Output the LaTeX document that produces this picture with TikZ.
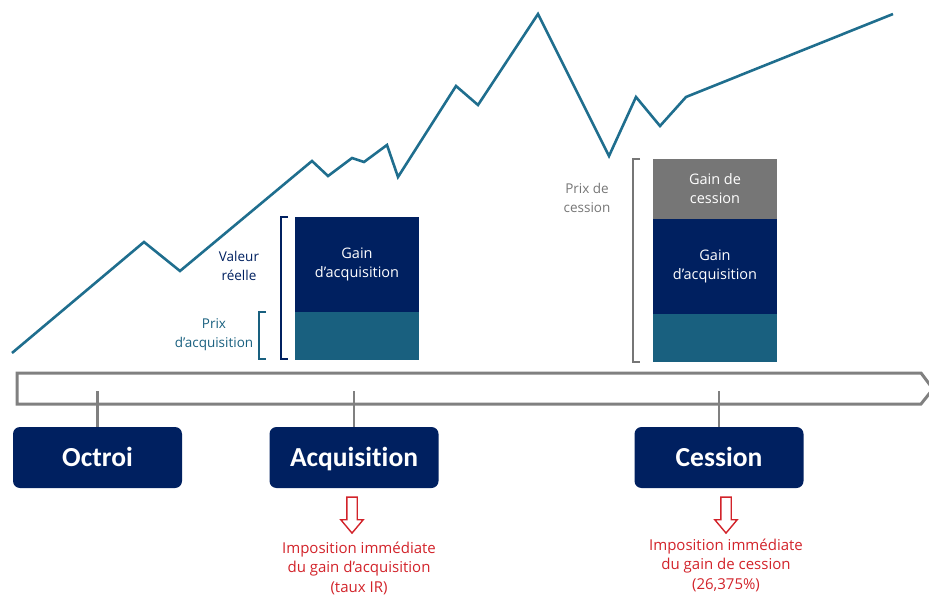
\documentclass[tikz,border=0pt]{standalone}
\usepackage{fontspec}
\setmainfont{Open Sans}
\newfontfamily\etapefont[Ligatures=NoCommon]{Carlito}
\usetikzlibrary{shapes.arrows}
\definecolor{navy}{HTML}{002060}
\definecolor{petrole}{HTML}{19607F}
\definecolor{courbe}{HTML}{1F6E8E}
\definecolor{gris}{HTML}{767676}
\definecolor{rouge}{HTML}{D2232A}
\begin{document}
\begin{tikzpicture}[x=1pt,y=-1pt,
    courbe/.style={line width=2.6pt,draw=courbe,line join=miter},
    bloc/.style={minimum width=124pt,inner sep=0pt,text=white,align=center,
      font=\fontsize{14.5}{19}\selectfont},
    etape/.style={fill=navy,rounded corners=7pt,minimum width=169pt,minimum height=61pt,
      text height=20pt,text depth=2pt,
      text=white,font=\etapefont\bfseries\fontsize{27.5}{30}\selectfont},
    legende/.style={align=center,font=\fontsize{13.5}{19}\selectfont},
    crochet/.style={line width=2pt},
    impot/.style={single arrow,shape border rotate=270,draw=rouge,line width=1.4pt,fill=white,
      inner sep=4.5pt,minimum height=36pt,single arrow head extend=6pt,single arrow tip angle=80},
    note/.style={text=rouge,align=center,font=\fontsize{15}{19.5}\selectfont}]
    \useasboundingbox (0,0) rectangle (929,596);

    % evolution du cours
    \draw[courbe] (12,353) -- (144,242) -- (180,271) -- (312,161) -- (328,176) -- (352,158)
        -- (364,162) -- (387,145) -- (398,177) -- (456,86) -- (478,105) -- (538,14)
        -- (609,156) -- (636,97) -- (660,126) -- (686,97) -- (893,14);

    % blocs a l'acquisition
    \node[bloc,fill=navy,minimum height=95pt] (gainacq) at (357,264.5) {Gain\\d’acquisition};
    \node[bloc,fill=petrole,minimum height=48pt] (prixacq) at (357,336) {};
    \draw[crochet,draw=navy] (288,217) -- (281,217) -- (281,359) -- (288,359);
    \draw[crochet,draw=petrole] (266,312) -- (259,312) -- (259,359) -- (266,359);
    \node[legende,text=navy] (valeur) at (239,266) {Valeur\\réelle};
    \node[legende,text=petrole] (prix) at (214,335) {Prix\\d’acquisition};

    % blocs a la cession
    \node[bloc,fill=gris,minimum height=60pt] (gaincess) at (715,189) {Gain de\\cession};
    \node[bloc,fill=navy,minimum height=95pt] (gainacq2) at (715,266.5) {Gain\\d’acquisition};
    \node[bloc,fill=petrole,minimum height=48pt] (prixacq2) at (715,338) {};
    \draw[crochet,draw=gris] (640,159) -- (633,159) -- (633,362) -- (640,362);
    \node[legende,text=gris] (prixcess) at (587,198) {Prix de\\cession};

    % frise
    \draw[line width=3pt,draw=black!50,line join=miter] (17,373) -- (921,373) -- (933,389)
        -- (921,404) -- (17,404) -- cycle;
    \coordinate (t1) at (97.5,391);
    \coordinate (t2) at (354,391);
    \coordinate (t3) at (719,391);
    \node[etape] (octroi) at (97.5,457.5) {Octroi};
    \node[etape] (acquisition) at (354,457.5) {Acquisition};
    \node[etape] (cession) at (719,457.5) {Cession};
    \draw[line width=2.5pt,draw=black!50] (t1) -- (octroi);
    \draw[line width=2.5pt,draw=black!50] (t2) -- (acquisition);
    \draw[line width=2.5pt,draw=black!50] (t3) -- (cession);

    % imposition
    \node[impot] (fl1) at (352,512) {};
    \node[impot] (fl2) at (726,512) {};
    \node[note] (imp1) at (359,568) {Imposition immédiate\\du gain d’acquisition\\(taux IR)};
    \node[note] (imp2) at (726,565) {Imposition immédiate\\du gain de cession\\(26,375\%)};
\end{tikzpicture}
\end{document}
